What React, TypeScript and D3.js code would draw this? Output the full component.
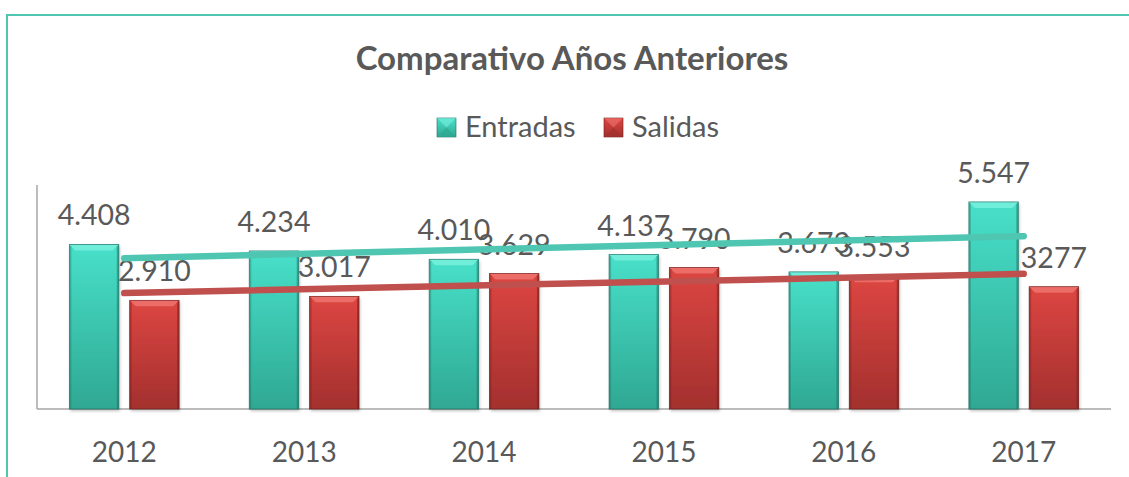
import { useEffect } from 'react';
import * as d3 from 'd3';

const YEARS = ['2012', '2013', '2014', '2015', '2016', '2017'];
const ENTRADAS = [4408, 4234, 4010, 4137, 3673, 5547];
const SALIDAS = [2910, 3017, 3629, 3790, 3553, 3277];
const ENTRADAS_LBL = ['4.408', '4.234', '4.010', '4.137', '3.673', '5.547'];
const SALIDAS_LBL = ['2.910', '3.017', '3.629', '3.790', '3.553', '3277'];

const SERIES = [
  { name: 'Entradas', values: ENTRADAS, labels: ENTRADAS_LBL, top: '#48e0c9', bottom: '#2fa893', bevel: '#7ef3e0', edge: '#1d6e61', trend: '#4ec6b2' },
  { name: 'Salidas', values: SALIDAS, labels: SALIDAS_LBL, top: '#dd4642', bottom: '#a3302e', bevel: '#f27a74', edge: '#6e1d1b', trend: '#c0504d' },
];

const W = 1129, H = 477;
const M = { left: 37, right: 18, top: 185, bottom: 68 };
const FONT = 'Lato, "Open Sans", sans-serif';
const TXT = '#595959';

function trend(vals: number[]) {
  const n = vals.length;
  const mx = (n - 1) / 2;
  const my = d3.mean(vals) as number;
  let sxy = 0, sxx = 0;
  vals.forEach((v, i) => { sxy += (i - mx) * v; sxx += (i - mx) * (i - mx); });
  const b = sxy / sxx;
  return vals.map((_, i) => my + b * (i - mx));
}

export default function App() {
  useEffect(() => { document.body.style.margin = '0'; }, []);

  const x0 = d3.scaleBand().domain(YEARS).range([M.left, W - M.right]).paddingInner(0.39).paddingOuter(0.18);
  const x1 = d3.scaleBand().domain(SERIES.map(s => s.name)).range([0, x0.bandwidth()]).paddingInner(0.18);
  const y = d3.scaleLinear().domain([0, 6000]).range([H - M.bottom, M.top]);
  const base = y(0);
  const bv = 6;

  const line = d3.line<[number, number]>().x(d => d[0]).y(d => d[1]);

  return (
    <svg width={W} height={H} style={{ display: 'block', background: '#fff' }}>
      <defs>
        {SERIES.map((s, i) => (
          <linearGradient key={i} id={`g${i}`} x1="0" y1="0" x2="0" y2="1">
            <stop offset="0" stopColor={s.top} />
            <stop offset="1" stopColor={s.bottom} />
          </linearGradient>
        ))}
        <filter id="sh" x="-20%" y="-5%" width="140%" height="115%">
          <feDropShadow dx="1" dy="2" stdDeviation="1.5" floodColor="#000" floodOpacity="0.25" />
        </filter>
      </defs>

      {/* frame */}
      <rect x={7} y={15} width={W + 20} height={H + 20} fill="none" stroke="#4ec6b2" strokeWidth={2} />

      <text x={572} y={70} textAnchor="middle" fontFamily={FONT} fontWeight={700} fontSize={33} fill={TXT}>
        Comparativo Años Anteriores
      </text>

      {/* legend */}
      {SERIES.map((s, i) => {
        const lx = i === 0 ? 437 : 604;
        return (
          <g key={s.name}>
            <rect x={lx} y={118} width={19} height={19} fill={`url(#g${i})`} stroke={s.edge} strokeWidth={0.6} />
            <polygon points={`${lx},118 ${lx + 19},118 ${lx + 9.5},127.5`} fill={s.bevel} opacity={0.55} />
            <polygon points={`${lx},137 ${lx + 19},137 ${lx + 9.5},127.5`} fill={s.bottom} opacity={0.7} />
            <text x={lx + 28} y={137} fontFamily={FONT} fontSize={29} fill={TXT}>{s.name}</text>
          </g>
        );
      })}

      {/* axes */}
      <line x1={M.left} x2={M.left} y1={M.top} y2={base} stroke="#a6a6a6" strokeWidth={1.5} />
      <line x1={M.left} x2={W - M.right} y1={base} y2={base} stroke="#a6a6a6" strokeWidth={1.5} />

      {/* bars */}
      {YEARS.map((yr, ci) => (
        <g key={yr}>
          {SERIES.map((s, si) => {
            const bx = (x0(yr) as number) + (x1(s.name) as number);
            const bw = x1.bandwidth();
            const by = y(s.values[ci]);
            return (
              <g key={s.name}>
                <rect x={bx} y={by} width={bw} height={base - by} fill={`url(#g${si})`} filter="url(#sh)" />
                <polygon points={`${bx},${by} ${bx + bw},${by} ${bx + bw - bv},${by + bv} ${bx + bv},${by + bv}`} fill={s.bevel} opacity={0.75} />
                <polygon points={`${bx},${by} ${bx + 2},${by + 2} ${bx + 2},${base} ${bx},${base}`} fill={s.edge} opacity={0.35} />
                <polygon points={`${bx + bw},${by} ${bx + bw - 2},${by + 2} ${bx + bw - 2},${base} ${bx + bw},${base}`} fill={s.edge} opacity={0.5} />
                <rect x={bx} y={by} width={bw} height={base - by} fill="none" stroke={s.edge} strokeWidth={0.8} opacity={0.8} />
              </g>
            );
          })}
        </g>
      ))}

      {/* value labels */}
      {YEARS.map((yr, ci) => SERIES.map(s => {
        const cx = (x0(yr) as number) + (x1(s.name) as number) + x1.bandwidth() / 2;
        return (
          <text key={yr + s.name} x={cx} y={y(s.values[ci]) - 19} textAnchor="middle" fontFamily={FONT} fontSize={28.5} fill={TXT}>
            {s.labels[ci]}
          </text>
        );
      }))}

      {/* trend lines */}
      {SERIES.map(s => {
        const t = trend(s.values);
        const pts: [number, number][] = [0, YEARS.length - 1].map(i => [(x0(YEARS[i]) as number) + x0.bandwidth() / 2, y(t[i])]);
        return <path key={s.name} d={line(pts) as string} stroke={s.trend} strokeWidth={6.5} strokeLinecap="round" fill="none" />;
      })}

      {/* x labels */}
      {YEARS.map(yr => (
        <text key={yr} x={(x0(yr) as number) + x0.bandwidth() / 2} y={462} textAnchor="middle" fontFamily={FONT} fontSize={28} fill={TXT}>
          {yr}
        </text>
      ))}
    </svg>
  );
}
